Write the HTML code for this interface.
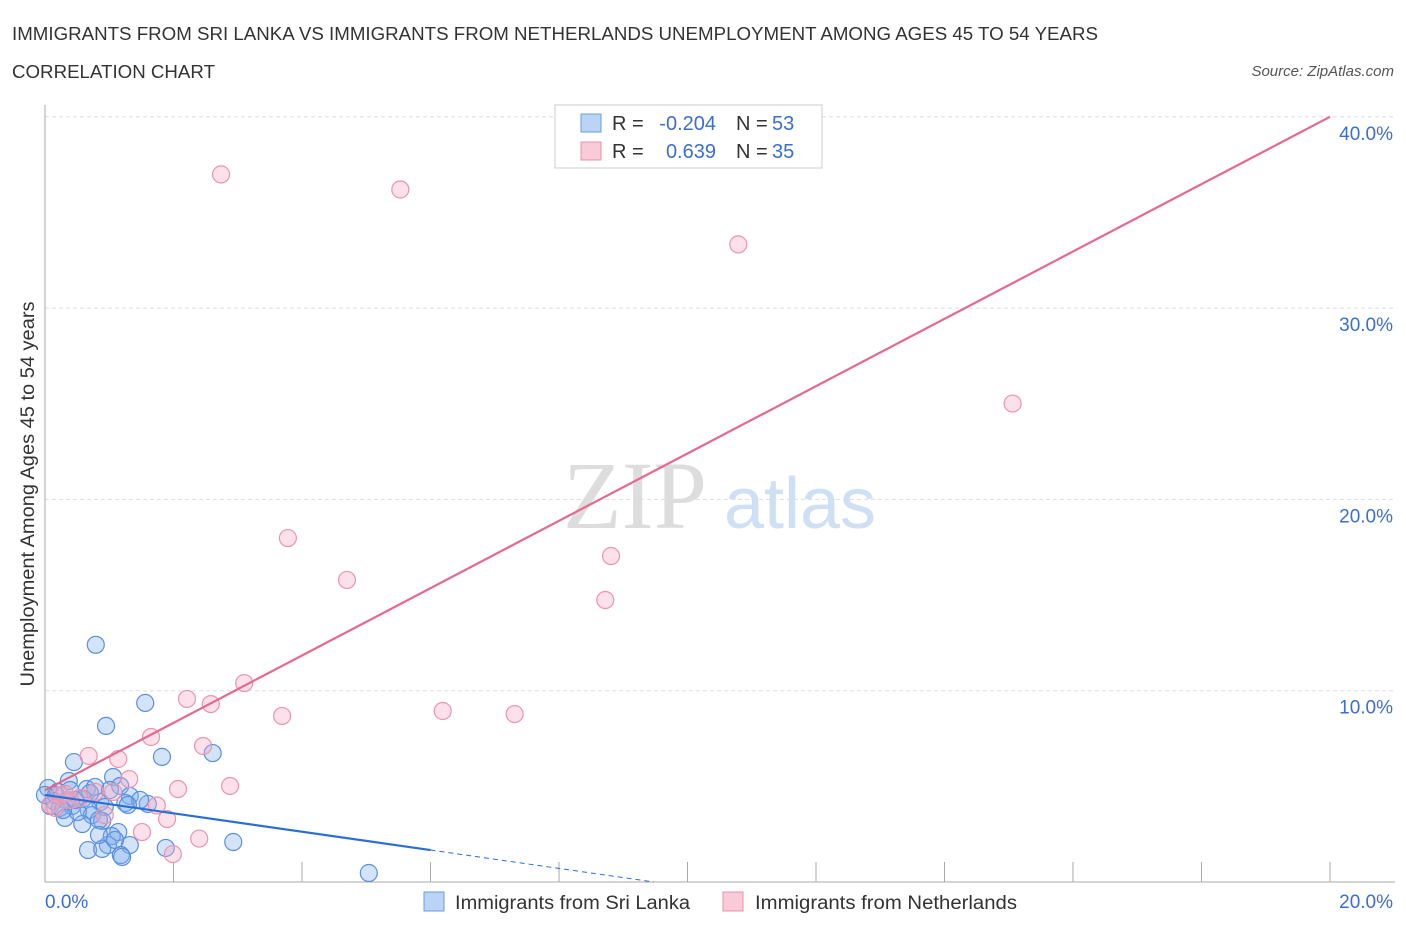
<!DOCTYPE html>
<html><head><meta charset="utf-8"><style>
body{margin:0;background:#fff;font-family:"Liberation Sans",sans-serif;}
</style></head><body>
<svg id="chart" width="1406" height="930" xmlns="http://www.w3.org/2000/svg" font-family="Liberation Sans, sans-serif">
<text x="12" y="40" font-size="18" fill="#333" textLength="1086" lengthAdjust="spacingAndGlyphs">IMMIGRANTS FROM SRI LANKA VS IMMIGRANTS FROM NETHERLANDS UNEMPLOYMENT AMONG AGES 45 TO 54 YEARS</text>
<text x="12" y="78" font-size="18" fill="#333" textLength="203" lengthAdjust="spacingAndGlyphs">CORRELATION CHART</text>
<text x="1394" y="76" font-size="15" fill="#555" text-anchor="end" font-style="italic">Source: ZipAtlas.com</text>
<g id="grid"></g>
<g><text x="635" y="528" font-size="96" fill="#ddd" text-anchor="middle" font-family="Liberation Serif, serif">ZIP</text><text x="800" y="528" font-size="72" fill="#cfe0f5" text-anchor="middle">atlas</text></g>
<g id="marks"></g>
<text transform="translate(34,494) rotate(-90)" font-size="19" fill="#333" text-anchor="middle" textLength="385" lengthAdjust="spacingAndGlyphs">Unemployment Among Ages 45 to 54 years</text>
<g>
<rect x="555" y="105" width="267" height="63" fill="#fff" stroke="#ccc"/>
<rect x="581" y="114" width="20" height="18" fill="#b9d4f5" stroke="#6b9be0"/>
<rect x="581" y="142" width="20" height="18" fill="#f9cad8" stroke="#e890aa"/>
<text x="612" y="130" font-size="20" fill="#333">R =</text>
<text x="716" y="130" font-size="20" fill="#3a6fd0" text-anchor="end">-0.204</text>
<text x="736" y="130" font-size="20" fill="#333">N =</text>
<text x="772" y="130" font-size="20" fill="#3a6fd0">53</text>
<text x="612" y="158" font-size="20" fill="#333">R =</text>
<text x="716" y="158" font-size="20" fill="#3a6fd0" text-anchor="end">0.639</text>
<text x="736" y="158" font-size="20" fill="#333">N =</text>
<text x="772" y="158" font-size="20" fill="#3a6fd0">35</text>
</g>
<g>
<rect x="424" y="892" width="20" height="19" fill="#b9d4f5" stroke="#6b9be0"/>
<text x="455" y="909" font-size="19" fill="#333" textLength="235" lengthAdjust="spacingAndGlyphs">Immigrants from Sri Lanka</text>
<rect x="723" y="892" width="20" height="19" fill="#f9cad8" stroke="#e890aa"/>
<text x="755" y="909" font-size="19" fill="#333" textLength="262" lengthAdjust="spacingAndGlyphs">Immigrants from Netherlands</text>
</g>
</svg>
<script>
const blueX=[0.79,1.56,0.95,1.82,2.61,0.45,1.06,0.37,0.05,0.2,0.65,0.78,1.17,1.32,1.6,1.25,0.86,0.59,0.34,0.14,0.08,0.23,0.42,0.68,0.93,0.31,0.73,0.58,0.89,1.14,1.04,0.98,0.67,0.89,1.32,1.88,1.18,1.2,2.93,5.04,0.84,0.51,0.17,0.0,0.28,0.47,1.01,1.48,1.29,0.84,1.09,0.7,0.39];
const blueY=[12.4,9.36,8.16,6.54,6.74,6.27,5.49,5.28,4.91,4.71,4.86,4.97,5.02,4.5,4.08,4.13,4.18,4.34,4.23,4.23,3.97,3.87,3.97,3.76,3.92,3.35,3.5,3.03,3.19,2.61,2.4,1.93,1.67,1.73,1.93,1.78,1.41,1.31,2.09,0.47,3.24,3.66,4.55,4.55,3.76,4.29,4.81,4.29,4.03,2.46,2.2,4.65,4.81];
const pinkX=[2.74,5.53,10.79,15.06,3.78,4.7,8.81,8.72,3.1,2.21,2.58,3.69,6.19,7.31,2.46,1.65,0.68,1.14,1.31,2.88,2.07,1.06,1.74,1.9,1.51,2.4,1.99,0.93,0.23,0.08,0.39,0.54,0.16,0.78,0.31];
const pinkY=[36.99,36.2,33.33,25.01,17.98,15.79,17.04,14.74,10.4,9.57,9.3,8.68,8.94,8.78,7.11,7.58,6.59,6.43,5.38,5.02,4.86,4.71,4.0,3.29,2.61,2.27,1.46,3.5,4.55,4.03,4.29,4.39,3.87,4.71,4.6];
const xTicks=[0,2,4,6,8,10,12,14,16,18,20];
const yTicks=[10,20,30,40];
const blueFit=[4.55,-0.48], pinkFit=[4.8,1.76];
const X=v=>45+v/20*1285, Y=v=>882-v*19.13;
const NS='http://www.w3.org/2000/svg';
function mk(t,a,p){const e=document.createElementNS(NS,t);for(const k in a)e.setAttribute(k,a[k]);p.appendChild(e);return e;}
const grid=document.getElementById('grid'), marks=document.getElementById('marks');
yTicks.forEach(v=>{
 const l=mk('line',{x1:45,x2:1395,y1:Y(v),y2:Y(v),stroke:'#ddd','stroke-dasharray':'4,3'},grid);
 
 
 const t=mk('text',{x:1393,y:Y(v)+23,'font-size':19,fill:'#3a6fd0','text-anchor':'end'},grid);
 t.textContent=v.toFixed(1)+'%';
 
 
});
mk('line',{x1:45,x2:45,y1:105,y2:882,stroke:'#aaa'},grid);
mk('line',{x1:45,x2:1395,y1:882,y2:882,stroke:'#aaa'},grid);
xTicks.forEach(v=>{if(v>0){const l=mk('line',{x1:X(v),x2:X(v),y1:862,y2:882,stroke:'#aaa'},grid);
 
 }});
[[0,'0.0%','start',45],[20,'20.0%','end',1393]].forEach(d=>{const t=mk('text',{x:d[3],y:908,'font-size':19,fill:'#3a6fd0','text-anchor':d[2]},grid);t.textContent=d[1];
 
 });
blueX.forEach((v,i)=>{const c=mk('circle',{cx:X(v),cy:Y(blueY[i]),r:8.5,fill:'rgba(130,175,235,0.35)',stroke:'#5a8fe0','stroke-width':1.2},marks);
 
 });
pinkX.forEach((v,i)=>{const c=mk('circle',{cx:X(v),cy:Y(pinkY[i]),r:8.5,fill:'rgba(245,170,195,0.35)',stroke:'#eb94b0','stroke-width':1.2},marks);
 
 });
const pl=mk('line',{x1:X(0),y1:Y(pinkFit[0]),x2:X(20),y2:Y(pinkFit[0]+pinkFit[1]*20),stroke:'#e5698f','stroke-width':2.2},marks);


const bl=mk('line',{x1:X(0),y1:Y(blueFit[0]),x2:X(6),y2:Y(blueFit[0]+blueFit[1]*6),stroke:'#2b6fd6','stroke-width':2.2},marks);


const x0=-blueFit[0]/blueFit[1];
const bd=mk('line',{x1:X(6),y1:Y(blueFit[0]+blueFit[1]*6),x2:X(x0),y2:Y(0),stroke:'#2b6fd6','stroke-width':1,'stroke-dasharray':'5,4'},marks);


</script>
</body></html>
